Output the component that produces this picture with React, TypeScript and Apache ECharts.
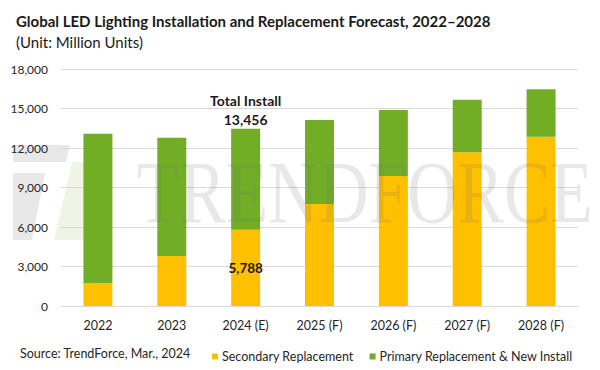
import React, { useEffect, useRef } from "react";
import * as echarts from "echarts";

const categories = ["2022", "2023", "2024 (E)", "2025 (F)", "2026 (F)", "2027 (F)", "2028 (F)"];
const secondaryReplacement = [1750, 3800, 5788, 7750, 9870, 11670, 12860];
const primaryReplacementNewInstall = [11340, 8980, 7668, 6380, 5020, 4000, 3600];
const yTicks = [0, 3000, 6000, 9000, 12000, 15000, 18000];
const highlightIndex = 2;

const FONT = "Lato, 'Open Sans', sans-serif";

export default function App() {
  const ref = useRef<HTMLDivElement>(null);
  useEffect(() => {
    if (!ref.current) return;
    const chart = echarts.init(ref.current, undefined, { renderer: "svg" });
    const yMax = yTicks[yTicks.length - 1];
    const yInterval = yTicks[1] - yTicks[0];
    chart.setOption({
      animation: false,
      backgroundColor: "#ffffff",
      textStyle: { fontFamily: FONT },
      title: [
        {
          text: "Global LED Lighting Installation and Replacement Forecast, 2022–2028",
          left: 11,
          top: 8,
          textStyle: { fontFamily: FONT, fontSize: 15, fontWeight: "bold", color: "#1a1a1a" },
        },
        {
          text: "(Unit: Million Units)",
          left: 11,
          top: 29,
          textStyle: { fontFamily: FONT, fontSize: 15, fontWeight: "normal", color: "#1a1a1a" },
        },
      ],
      legend: {
        left: 207,
        top: 345,
        icon: "rect",
        itemWidth: 6,
        itemHeight: 6,
        itemGap: 16,
        textStyle: { fontFamily: FONT, fontSize: 12.5, color: "#262626", padding: [0, 0, 0, -1] },
        data: ["Secondary Replacement", "Primary Replacement & New Install"],
      },
      grid: { left: 61, right: 22, top: 69, bottom: 64 },
      xAxis: {
        type: "category",
        data: categories,
        axisLine: { show: true, lineStyle: { color: "#d9d9d9" } },
        axisTick: { show: false },
        axisLabel: { fontFamily: FONT, fontSize: 12.5, color: "#262626", margin: 13 },
      },
      yAxis: {
        type: "value",
        min: 0,
        max: yMax,
        interval: yInterval,
        axisLine: { show: false },
        axisTick: { show: false },
        splitLine: { lineStyle: { color: "#d9d9d9" } },
        axisLabel: {
          fontFamily: FONT,
          fontSize: 12,
          color: "#262626",
          margin: 13,
          formatter: (v: number) => v.toLocaleString("en-US"),
        },
      },
      series: [
        {
          name: "Secondary Replacement",
          type: "bar",
          stack: "total",
          barWidth: 29,
          itemStyle: { color: "#FFC000" },
          data: secondaryReplacement.map((v, i) =>
            i === highlightIndex
              ? {
                  value: v,
                  label: {
                    show: true,
                    position: "inside",
                    fontFamily: FONT,
                    fontSize: 13.5,
                    fontWeight: "bold",
                    color: "#1a1a1a",
                    formatter: (p: any) => Number(p.value).toLocaleString("en-US"),
                  },
                }
              : v
          ),
        },
        {
          name: "Primary Replacement & New Install",
          type: "bar",
          stack: "total",
          barWidth: 29,
          itemStyle: { color: "#71AE26" },
          data: primaryReplacementNewInstall.map((v, i) =>
            i === highlightIndex
              ? {
                  value: v,
                  label: {
                    show: true,
                    position: "top",
                    distance: 0,
                    lineHeight: 19,
                    fontFamily: FONT,
                    fontSize: 14,
                    fontWeight: "bold",
                    color: "#1a1a1a",
                    formatter: (p: any) =>
                      "Total Install\n" +
                      (secondaryReplacement[p.dataIndex] + Number(p.value)).toLocaleString("en-US"),
                  },
                }
              : v
          ),
        },
      ],
      graphic: [
        {
          type: "text",
          left: 20,
          top: 347,
          style: {
            text: "Source: TrendForce, Mar., 2024",
            fontFamily: FONT,
            fontSize: 12.5,
            fill: "#262626",
          },
        },
        {
          type: "polygon",
          z: 0,
          silent: true,
          shape: { points: [[13, 145], [70, 145], [66, 162], [13, 162]] },
          style: { fill: "rgba(150,150,150,0.22)" },
        },
        {
          type: "polygon",
          z: 0,
          silent: true,
          shape: { points: [[13, 173], [45, 173], [32, 240], [13, 240]] },
          style: { fill: "rgba(150,150,150,0.22)" },
        },
        {
          type: "polygon",
          z: 0,
          silent: true,
          shape: { points: [[72, 162], [106, 162], [88, 240], [54, 240]] },
          style: { fill: "rgba(140,190,80,0.15)" },
        },
        {
          type: "text",
          z: 100,
          silent: true,
          x: 137,
          y: 192,
          scaleX: 0.79,
          style: {
            text: "TRENDFORCE",
            fontFamily: "'Liberation Serif', 'DejaVu Serif', serif",
            fontSize: 88,
            fill: "rgba(110,110,110,0.16)",
            verticalAlign: "middle",
            align: "left",
          },
        },
      ],
    });
    return () => chart.dispose();
  }, []);
  return <div ref={ref} style={{ width: 600, height: 370, position: "absolute", left: 0, top: 0 }} />;
}
